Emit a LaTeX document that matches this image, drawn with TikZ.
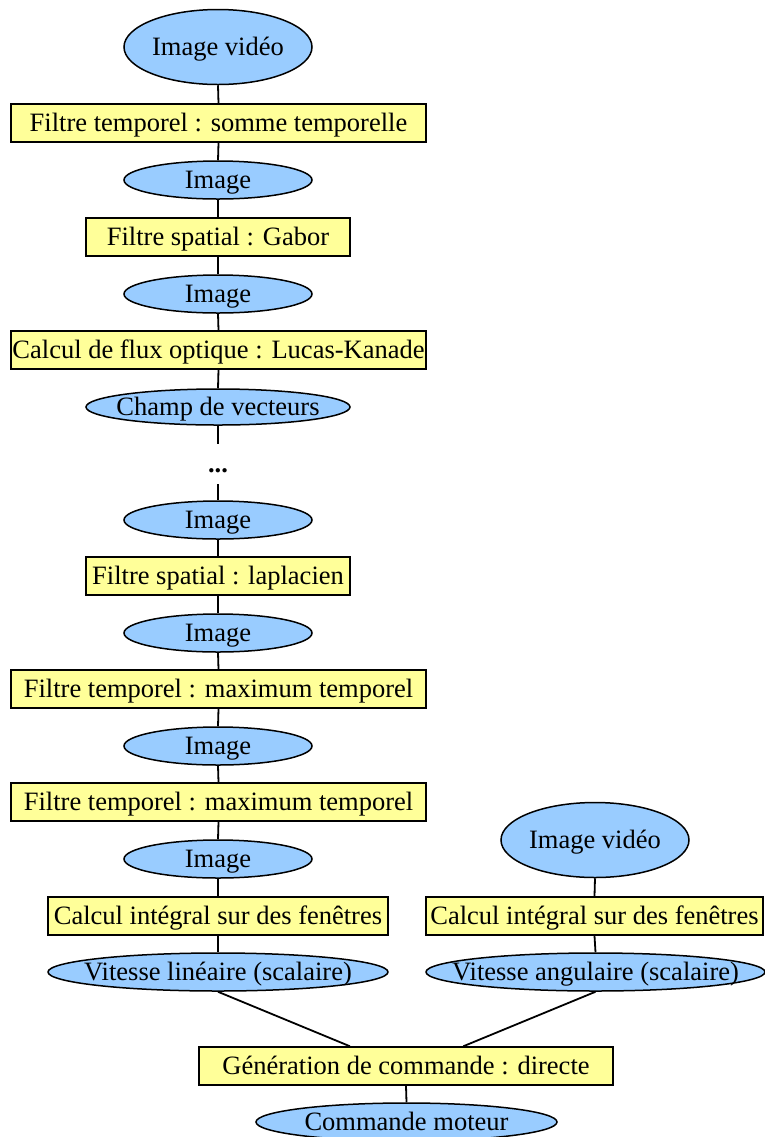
\documentclass[tikz,border=0pt]{standalone}
\usepackage{fontspec}
\setmainfont{Liberation Serif}
\usetikzlibrary{shapes.geometric,calc}
\definecolor{databg}{RGB}{153,204,255}
\definecolor{procbg}{RGB}{255,255,153}
\begin{document}
\begin{tikzpicture}[x=0.5pt,y=-0.5pt,
  every node/.style={font=\fontsize{13.25}{15}\selectfont,text height=0.95em,text depth=0.07em},
  data/.style={ellipse,draw,fill=databg,line width=0.75pt,inner xsep=-30pt,inner ysep=-14pt,
    minimum width=94pt,minimum height=19pt},
  bigdata/.style={data,minimum height=37.5pt},
  proc/.style={rectangle,draw,fill=procbg,line width=0.75pt,inner xsep=0pt,inner ysep=0pt,
    minimum height=19pt},
  link/.style={line width=0.9pt}]
\useasboundingbox (0,0) rectangle (765,1137);

% main chain
\node[bigdata] (e1) at (218,47) {Image vidéo};
\node[proc,minimum width=207.5pt] (r1) at (218.5,123) {Filtre temporel : somme temporelle};
\node[data] (e2) at (218,180) {Image};
\node[proc,minimum width=132pt] (r2) at (218,237) {Filtre spatial : Gabor};
\node[data] (e3) at (218,294) {Image};
\node[proc,minimum width=207.5pt] (r3) at (218.5,350) {Calcul de flux optique : Lucas-Kanade};
\node[data,minimum width=132pt,minimum height=18pt] (e4) at (218,407) {Champ de vecteurs};
\node[inner sep=0pt,minimum height=20pt] (dots) at (218,464) {\textbf{...}};
\node[data] (e5) at (218,520) {Image};
\node[proc,minimum width=132pt] (r4) at (218,576) {Filtre spatial : laplacien};
\node[data] (e6) at (218,633) {Image};
\node[proc,minimum width=207.5pt] (r5) at (218.5,689) {Filtre temporel : maximum temporel};
\node[data] (e7) at (218,746) {Image};
\node[proc,minimum width=207.5pt] (r6) at (218.5,802) {Filtre temporel : maximum temporel};
\node[data] (e8) at (218,859) {Image};
\node[proc,minimum width=170pt] (r7) at (218,916) {Calcul intégral sur des fenêtres};
\node[data,minimum width=170pt] (e9) at (218,972) {Vitesse linéaire (scalaire)};

% second branch
\node[bigdata] (e10) at (595,840) {Image vidéo};
\node[proc,minimum width=168.5pt] (r8) at (594.5,916) {Calcul intégral sur des fenêtres};
\node[data,minimum width=169.5pt] (e11) at (595.5,972) {Vitesse angulaire (scalaire)};

% command generation
\node[proc,minimum width=207pt] (gen) at (406,1066) {Génération de commande : directe};
\node[data,minimum width=150.5pt] (cmd) at (406.5,1122) {Commande moteur};

\draw[link] (e1.south) -- (r1.north);
\draw[link] (r1.south) -- (e2.north);
\draw[link] (e2.south) -- (r2.north);
\draw[link] (r2.south) -- (e3.north);
\draw[link] (e3.south) -- (r3.north);
\draw[link] (r3.south) -- (e4.north);
\draw[link] (e4.south) -- (dots.north);
\draw[link] (dots.south) -- (e5.north);
\draw[link] (e5.south) -- (r4.north);
\draw[link] (r4.south) -- (e6.north);
\draw[link] (e6.south) -- (r5.north);
\draw[link] (r5.south) -- (e7.north);
\draw[link] (e7.south) -- (r6.north);
\draw[link] (r6.south) -- (e8.north);
\draw[link] (e8.south) -- (r7.north);
\draw[link] (r7.south) -- (e9.north);
\draw[link] (e10.south) -- (r8.north);
\draw[link] (r8.south) -- (e11.north);
\draw[link] (e9.south) -- ($(gen.north west)!0.365!(gen.north east)$);
\draw[link] (e11.south) -- ($(gen.north west)!0.638!(gen.north east)$);
\draw[link] (gen.south) -- (cmd.north);
\end{tikzpicture}
\end{document}
